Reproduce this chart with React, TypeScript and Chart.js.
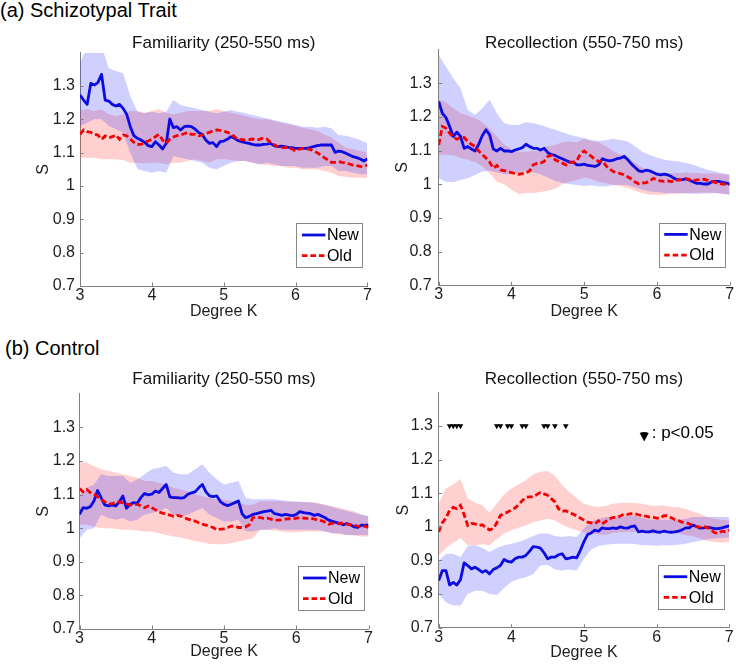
import React, { useEffect, useRef } from 'react';
import { Chart, registerables } from 'chart.js';

Chart.register(...registerables);

const FONT = "'Liberation Sans', Arial, Helvetica, sans-serif";
Chart.defaults.font.family = FONT;

// ---------- categories / ticks ----------
const K_LINE = [
  3, 3.05, 3.1, 3.15, 3.2, 3.25, 3.3, 3.35, 3.4, 3.45,
  3.5, 3.55, 3.6, 3.65, 3.7, 3.75, 3.8, 3.85, 3.9, 3.95,
  4, 4.05, 4.1, 4.15, 4.2, 4.25, 4.3, 4.35, 4.4, 4.45,
  4.5, 4.55, 4.6, 4.65, 4.7, 4.75, 4.8, 4.85, 4.9, 4.95,
  5, 5.05, 5.1, 5.15, 5.2, 5.25, 5.3, 5.35, 5.4, 5.45,
  5.5, 5.55, 5.6, 5.65, 5.7, 5.75, 5.8, 5.85, 5.9, 5.95,
  6, 6.05, 6.1, 6.15, 6.2, 6.25, 6.3, 6.35, 6.4, 6.45,
  6.5, 6.55, 6.6, 6.65, 6.7, 6.75, 6.8, 6.85, 6.9, 6.95,
  7,
];
const K_BAND = [
  3, 3.1, 3.2, 3.3, 3.4, 3.5, 3.6, 3.7, 3.8, 3.9,
  4, 4.1, 4.2, 4.3, 4.4, 4.5, 4.6, 4.7, 4.8, 4.9,
  5, 5.1, 5.2, 5.3, 5.4, 5.5, 5.6, 5.7, 5.8, 5.9,
  6, 6.1, 6.2, 6.3, 6.4, 6.5, 6.6, 6.7, 6.8, 6.9,
  7,
];
const X_TICKS = [3, 4, 5, 6, 7];
const Y_TICKS = [0.7, 0.8, 0.9, 1, 1.1, 1.2, 1.3];
const Y_MIN = 0.7;
const Y_MAX = 1.4;
const SERIES_NAMES = ['New', 'Old'];
const GROUP_LABELS = ['(a) Schizotypal Trait', '(b) Control'];
const PANEL_TITLES = ['Familiarity (250-550 ms)', 'Recollection (550-750 ms)'];
const X_LABEL = 'Degree K';
const Y_LABEL = 'S';
const SIG_LABEL = ': p<0.05';
const SIG_LEVEL = 1.3;
const CTRL_REC_SIG_K = [3.15, 3.2, 3.25, 3.3, 3.8, 3.85, 3.95, 4, 4.15, 4.2, 4.45, 4.5, 4.6, 4.75];

// ---------- (a) Schizotypal, Familiarity ----------
const SCHIZO_FAM_NEW = [
  1.273, 1.258, 1.245, 1.308, 1.303, 1.311, 1.335, 1.258, 1.255, 1.245, 1.24,
  1.245, 1.233, 1.215, 1.178, 1.151, 1.143, 1.138, 1.131, 1.121, 1.118,
  1.133, 1.123, 1.111, 1.128, 1.201, 1.175, 1.178, 1.168, 1.178, 1.18,
  1.178, 1.171, 1.161, 1.155, 1.138, 1.128, 1.13, 1.118, 1.133, 1.135,
  1.14, 1.148, 1.143, 1.136, 1.133, 1.13, 1.128, 1.125, 1.123, 1.123,
  1.125, 1.126, 1.128, 1.121, 1.118, 1.12, 1.118, 1.116, 1.115, 1.113,
  1.113, 1.113, 1.113, 1.115, 1.118, 1.121, 1.123, 1.123, 1.123, 1.123,
  1.101, 1.105, 1.103, 1.098, 1.093, 1.088, 1.085, 1.081, 1.075, 1.081,
];
const SCHIZO_FAM_OLD = [
  1.155, 1.168, 1.163, 1.161, 1.155, 1.153, 1.14, 1.15, 1.145, 1.148, 1.153,
  1.14, 1.153, 1.151, 1.141, 1.131, 1.125, 1.125, 1.131, 1.135, 1.14,
  1.148, 1.155, 1.138, 1.128, 1.141, 1.147, 1.151, 1.153, 1.157, 1.161,
  1.155, 1.155, 1.151, 1.153, 1.158, 1.161, 1.165, 1.168, 1.167, 1.165,
  1.161, 1.157, 1.148, 1.139, 1.14, 1.138, 1.139, 1.141, 1.139, 1.14,
  1.144, 1.141, 1.131, 1.125, 1.118, 1.115, 1.115, 1.117, 1.111, 1.105,
  1.111, 1.112, 1.112, 1.11, 1.105, 1.1, 1.093, 1.085, 1.078, 1.071,
  1.071, 1.073, 1.071, 1.069, 1.066, 1.063, 1.061, 1.059, 1.058, 1.063,
];
const SCHIZO_FAM_NEW_HI = [
  1.368, 1.42, 1.43, 1.42, 1.353, 1.345, 1.338, 1.27, 1.223, 1.218,
  1.223, 1.218, 1.223, 1.258, 1.243, 1.238, 1.233, 1.228, 1.223, 1.218,
  1.223, 1.228, 1.223, 1.218, 1.213, 1.208, 1.203, 1.198, 1.193, 1.188,
  1.183, 1.178, 1.178, 1.175, 1.178, 1.173, 1.153, 1.151, 1.145, 1.138,
  1.128,
];
const SCHIZO_FAM_NEW_LO = [
  1.18, 1.19, 1.2, 1.2, 1.18, 1.17, 1.16, 1.1, 1.05, 1.045,
  1.04, 1.045, 1.04, 1.09, 1.085, 1.08, 1.075, 1.07, 1.055, 1.05,
  1.06, 1.07, 1.075, 1.075, 1.07, 1.065, 1.07, 1.065, 1.06, 1.06,
  1.06, 1.055, 1.055, 1.055, 1.06, 1.06, 1.045, 1.045, 1.04, 1.035,
  1.035,
];
const SCHIZO_FAM_OLD_HI = [
  1.228, 1.23, 1.225, 1.23, 1.215, 1.21, 1.215, 1.225, 1.225, 1.22,
  1.225, 1.23, 1.22, 1.215, 1.22, 1.225, 1.225, 1.225, 1.225, 1.23,
  1.225, 1.22, 1.215, 1.21, 1.205, 1.2, 1.2, 1.195, 1.19, 1.185,
  1.18, 1.175, 1.17, 1.165, 1.155, 1.145, 1.13, 1.115, 1.11, 1.105,
  1.1,
];
const SCHIZO_FAM_OLD_LO = [
  1.085, 1.085, 1.085, 1.08, 1.08, 1.08, 1.078, 1.07, 1.07, 1.068,
  1.07, 1.07, 1.065, 1.07, 1.07, 1.075, 1.08, 1.075, 1.07, 1.08,
  1.08, 1.078, 1.075, 1.075, 1.07, 1.065, 1.063, 1.06, 1.06, 1.055,
  1.055, 1.05, 1.05, 1.05, 1.045, 1.04, 1.03, 1.028, 1.025, 1.025,
  1.025,
];

// ---------- (a) Schizotypal, Recollection ----------
const SCHIZO_REC_NEW = [
  1.246, 1.211, 1.198, 1.172, 1.142, 1.155, 1.142, 1.107, 1.112, 1.105, 1.099,
  1.119, 1.145, 1.162, 1.147, 1.105, 1.099, 1.107, 1.099, 1.099, 1.097,
  1.102, 1.105, 1.109, 1.119, 1.112, 1.107, 1.107, 1.102, 1.107, 1.094,
  1.088, 1.086, 1.08, 1.076, 1.071, 1.066, 1.066, 1.058, 1.058, 1.06,
  1.056, 1.055, 1.053, 1.058, 1.076, 1.072, 1.07, 1.072, 1.076, 1.078,
  1.083, 1.073, 1.06, 1.05, 1.04, 1.038, 1.042, 1.04, 1.035, 1.03,
  1.028, 1.03, 1.028, 1.023, 1.016, 1.013, 1.014, 1.016, 1.012, 1.007,
  1.003, 1.003, 1.001, 1.001, 1.007, 1.009, 1.009, 1.006, 1.004, 1.001,
];
const SCHIZO_REC_OLD = [
  1.117, 1.172, 1.167, 1.152, 1.14, 1.134, 1.139, 1.139, 1.127, 1.119, 1.112,
  1.099, 1.088, 1.078, 1.066, 1.048, 1.056, 1.043, 1.041, 1.038, 1.035,
  1.032, 1.03, 1.032, 1.034, 1.04, 1.058, 1.062, 1.063, 1.068, 1.083,
  1.086, 1.073, 1.068, 1.063, 1.058, 1.066, 1.065, 1.07, 1.092, 1.099,
  1.09, 1.083, 1.073, 1.068, 1.07, 1.055, 1.045, 1.038, 1.034, 1.032,
  1.028, 1.022, 1.016, 1.007, 1.002, 1.004, 1.005, 1.009, 1.018, 1.013,
  1.01, 1.009, 1.01, 1.008, 1.011, 1.013, 1.013, 1.017, 1.014, 1.011,
  1.013, 1.013, 1.015, 1.012, 1.009, 1.006, 1.003, 1.001, 1.001, 0.999,
];
const SCHIZO_REC_NEW_HI = [
  1.384, 1.349, 1.315, 1.285, 1.221, 1.206, 1.226, 1.251, 1.211, 1.181,
  1.176, 1.176, 1.184, 1.181, 1.176, 1.169, 1.162, 1.155, 1.147, 1.142,
  1.137, 1.132, 1.129, 1.132, 1.135, 1.132, 1.127, 1.112, 1.097, 1.087,
  1.08, 1.073, 1.07, 1.068, 1.063, 1.058, 1.05, 1.043, 1.038, 1.033,
  1.03,
];
const SCHIZO_REC_NEW_LO = [
  1.018, 1.008, 1.006, 1.013, 1.018, 1.028, 1.038, 1.04, 1.035, 1.03,
  1.03, 1.035, 1.04, 1.035, 1.03, 1.02, 1.01, 1.005, 1.0, 0.998,
  0.995, 0.997, 0.994, 0.994, 0.997, 0.999, 0.997, 0.991, 0.984, 0.979,
  0.977, 0.974, 0.974, 0.974, 0.973, 0.972, 0.972, 0.973, 0.974, 0.972,
  0.969,
];
const SCHIZO_REC_OLD_HI = [
  1.251, 1.244, 1.226, 1.211, 1.204, 1.196, 1.184, 1.165, 1.142, 1.119,
  1.105, 1.097, 1.097, 1.099, 1.101, 1.112, 1.117, 1.125, 1.127, 1.124,
  1.135, 1.129, 1.125, 1.112, 1.099, 1.088, 1.076, 1.063, 1.05, 1.04,
  1.036, 1.034, 1.033, 1.033, 1.035, 1.034, 1.033, 1.032, 1.032, 1.03,
  1.028,
];
const SCHIZO_REC_OLD_LO = [
  1.088, 1.088, 1.086, 1.078, 1.073, 1.066, 1.053, 1.033, 1.008, 1.0,
  0.984, 0.971, 0.974, 0.974, 0.977, 0.981, 0.987, 1.0, 1.008, 1.013,
  1.02, 1.016, 1.008, 1.004, 0.999, 0.994, 0.989, 0.981, 0.974, 0.969,
  0.969, 0.969, 0.971, 0.972, 0.974, 0.974, 0.976, 0.976, 0.974, 0.972,
  0.969,
];

// ---------- (b) Control, Familiarity ----------
const CTRL_FAM_NEW = [
  1.041, 1.061, 1.059, 1.064, 1.081, 1.112, 1.09, 1.069, 1.066, 1.069, 1.066,
  1.078, 1.096, 1.059, 1.071, 1.076, 1.074, 1.091, 1.103, 1.099, 1.101,
  1.11, 1.106, 1.118, 1.13, 1.093, 1.091, 1.091, 1.089, 1.091, 1.101,
  1.105, 1.108, 1.12, 1.13, 1.108, 1.096, 1.094, 1.096, 1.079, 1.071,
  1.067, 1.071, 1.076, 1.081, 1.043, 1.031, 1.035, 1.041, 1.043, 1.046,
  1.049, 1.051, 1.053, 1.043, 1.041, 1.038, 1.041, 1.039, 1.037, 1.041,
  1.049, 1.046, 1.045, 1.043, 1.038, 1.041, 1.036, 1.031, 1.024, 1.02,
  1.017, 1.014, 1.01, 1.014, 1.01, 1.004, 1.002, 1.009, 1.008, 1.01,
];
const CTRL_FAM_OLD = [
  1.118, 1.108, 1.115, 1.106, 1.101, 1.093, 1.086, 1.078, 1.071, 1.073, 1.076,
  1.078, 1.075, 1.072, 1.069, 1.071, 1.071, 1.066, 1.061, 1.066, 1.061,
  1.055, 1.048, 1.045, 1.042, 1.039, 1.035, 1.038, 1.036, 1.031, 1.027,
  1.024, 1.021, 1.016, 1.012, 1.009, 1.005, 1.002, 0.995, 0.997, 0.998,
  1.002, 1.006, 1.006, 1.002, 1.002, 1.004, 1.01, 1.031, 1.033, 1.031,
  1.029, 1.03, 1.027, 1.024, 1.024, 1.025, 1.027, 1.028, 1.027, 1.03,
  1.031, 1.03, 1.029, 1.03, 1.027, 1.025, 1.022, 1.018, 1.012, 1.015,
  1.012, 1.014, 1.016, 1.012, 1.01, 1.009, 1.006, 1.005, 1.006, 1.002,
];
const CTRL_FAM_NEW_HI = [
  1.1, 1.12, 1.13, 1.16, 1.155, 1.155, 1.155, 1.135, 1.145, 1.16,
  1.175, 1.18, 1.185, 1.165, 1.16, 1.16, 1.175, 1.19, 1.165, 1.145,
  1.13, 1.135, 1.14, 1.09, 1.086, 1.086, 1.086, 1.086, 1.083, 1.081,
  1.079, 1.078, 1.076, 1.073, 1.069, 1.063, 1.056, 1.051, 1.046, 1.041,
  1.036,
];
const CTRL_FAM_NEW_LO = [
  0.97, 0.995, 1.0, 1.04, 1.03, 1.025, 1.03, 1.02, 1.025, 1.04,
  1.045, 1.05, 1.06, 1.04, 1.035, 1.04, 1.05, 1.06, 1.04, 1.03,
  1.02, 1.02, 1.025, 0.99, 0.99, 0.995, 0.995, 1.0, 0.995, 0.995,
  0.995, 0.995, 0.995, 0.995, 0.99, 0.985, 0.985, 0.98, 0.98, 0.98,
  0.98,
];
const CTRL_FAM_OLD_HI = [
  1.195, 1.195, 1.185, 1.175, 1.17, 1.165, 1.16, 1.155, 1.15, 1.14,
  1.14, 1.135, 1.13, 1.12, 1.115, 1.11, 1.1, 1.095, 1.09, 1.085,
  1.085, 1.08, 1.075, 1.07, 1.07, 1.08, 1.08, 1.08, 1.08, 1.078,
  1.078, 1.078, 1.078, 1.075, 1.07, 1.065, 1.06, 1.055, 1.05, 1.04,
  1.035,
];
const CTRL_FAM_OLD_LO = [
  1.01, 1.01, 1.005, 1.0, 1.0, 0.998, 0.995, 0.995, 0.993, 0.99,
  0.99, 0.985, 0.98, 0.975, 0.972, 0.967, 0.962, 0.958, 0.953, 0.952,
  0.952, 0.955, 0.96, 0.965, 0.97, 0.995, 0.995, 0.993, 0.99, 0.988,
  0.988, 0.99, 0.99, 0.99, 0.99, 0.985, 0.982, 0.98, 0.978, 0.975,
  0.975,
];

// ---------- (b) Control, Recollection ----------
const CTRL_REC_NEW = [
  0.84, 0.87, 0.87, 0.827, 0.835, 0.827, 0.843, 0.893, 0.885, 0.875, 0.88,
  0.873, 0.865, 0.87, 0.86, 0.873, 0.878, 0.885, 0.903, 0.897, 0.895,
  0.905, 0.91, 0.91, 0.915, 0.927, 0.941, 0.94, 0.937, 0.923, 0.905,
  0.91, 0.91, 0.917, 0.92, 0.905, 0.907, 0.91, 0.908, 0.93, 0.956,
  0.977, 0.982, 0.99, 0.987, 0.997, 0.995, 0.995, 0.997, 0.995, 1.0,
  0.997, 0.996, 1.001, 1.003, 0.985, 0.987, 0.985, 0.985, 0.988, 0.985,
  0.984, 0.987, 0.985, 0.984, 0.985, 0.987, 0.991, 0.997, 0.997, 1.005,
  1.001, 0.996, 0.997, 0.999, 0.997, 0.995, 0.995, 0.997, 1.0, 1.003,
];
const CTRL_REC_OLD = [
  0.985, 1.012, 1.026, 1.049, 1.058, 1.054, 1.064, 1.036, 1.004, 1.01, 1.009,
  1.004, 1.006, 0.998, 0.991, 0.995, 1.012, 1.034, 1.039, 1.044, 1.05,
  1.056, 1.066, 1.078, 1.088, 1.089, 1.089, 1.096, 1.102, 1.098, 1.094,
  1.084, 1.074, 1.054, 1.046, 1.048, 1.042, 1.038, 1.032, 1.026, 1.02,
  1.014, 1.012, 1.009, 1.018, 1.009, 1.016, 1.024, 1.028, 1.027, 1.032,
  1.038, 1.037, 1.039, 1.039, 1.036, 1.034, 1.032, 1.029, 1.029, 1.026,
  1.026, 1.033, 1.033, 1.027, 1.022, 1.019, 1.014, 1.013, 1.009, 1.005,
  1.001, 0.999, 1.001, 0.998, 0.99, 0.983, 0.981, 0.987, 0.985, 0.99,
];
const CTRL_REC_NEW_HI = [
  0.9, 0.92, 0.92, 0.91, 0.943, 0.945, 0.937, 0.925, 0.937, 0.945,
  0.95, 0.955, 0.963, 0.973, 0.98, 0.98, 0.973, 0.97, 0.973, 0.97,
  0.995, 1.016, 1.024, 1.029, 1.029, 1.031, 1.032, 1.034, 1.026, 1.022,
  1.021, 1.021, 1.021, 1.022, 1.024, 1.029, 1.029, 1.029, 1.029, 1.029,
  1.029,
];
const CTRL_REC_NEW_LO = [
  0.8, 0.776, 0.766, 0.766, 0.8, 0.81, 0.81, 0.8, 0.797, 0.817,
  0.837, 0.845, 0.85, 0.86, 0.885, 0.887, 0.873, 0.87, 0.873, 0.87,
  0.905, 0.933, 0.943, 0.947, 0.949, 0.95, 0.95, 0.949, 0.945, 0.945,
  0.944, 0.945, 0.945, 0.947, 0.95, 0.955, 0.959, 0.963, 0.965, 0.967,
  0.968,
];
const CTRL_REC_OLD_HI = [
  1.07, 1.114, 1.126, 1.142, 1.084, 1.072, 1.064, 1.042, 1.069, 1.096,
  1.114, 1.126, 1.139, 1.156, 1.164, 1.166, 1.152, 1.124, 1.104, 1.086,
  1.069, 1.062, 1.059, 1.062, 1.069, 1.071, 1.072, 1.071, 1.069, 1.064,
  1.062, 1.064, 1.059, 1.058, 1.054, 1.046, 1.039, 1.029, 1.024, 1.021,
  1.019,
];
const CTRL_REC_OLD_LO = [
  0.915, 0.937, 0.953, 0.967, 0.945, 0.945, 0.948, 0.945, 0.963, 0.98,
  0.99, 0.997, 1.004, 1.014, 1.019, 1.024, 1.019, 1.006, 0.997, 0.99,
  0.983, 0.98, 0.978, 0.976, 0.982, 0.985, 0.985, 0.985, 0.983, 0.98,
  0.98, 0.983, 0.982, 0.98, 0.975, 0.972, 0.965, 0.958, 0.955, 0.953,
  0.955,
];

// ---------- styles ----------
const BLUE = 'rgb(12,12,225)';
const RED = 'rgb(245,0,0)';
const BLUE_FILL = 'rgba(40,40,255,0.22)';
const RED_FILL = 'rgba(255,40,40,0.22)';
const AXIS_COLOR = '#808080';
const TEXT_COLOR = '#1e1e1e';

interface Box { left: number; top: number; width: number; height: number }
interface Area { l: number; t: number; r: number; b: number }
interface Panel {
  title: string;
  newMean: number[]; oldMean: number[];
  newHi: number[]; newLo: number[]; oldHi: number[]; oldLo: number[];
  sig?: number[];
  box: Box; area: Area;
  tickPad: number; titleY: number; xTitleY: number; yTitleX: number;
}

const PANELS: Panel[] = [
  {
    title: PANEL_TITLES[0],
    newMean: SCHIZO_FAM_NEW, oldMean: SCHIZO_FAM_OLD,
    newHi: SCHIZO_FAM_NEW_HI, newLo: SCHIZO_FAM_NEW_LO, oldHi: SCHIZO_FAM_OLD_HI, oldLo: SCHIZO_FAM_OLD_LO,
    box: { left: 0, top: 25, width: 376, height: 302 },
    area: { l: 80, t: 52.7, r: 367.4, b: 286 },
    tickPad: 5, titleY: 43.5, xTitleY: 312, yTitleX: 44,
  },
  {
    title: PANEL_TITLES[1],
    newMean: SCHIZO_REC_NEW, oldMean: SCHIZO_REC_OLD,
    newHi: SCHIZO_REC_NEW_HI, newLo: SCHIZO_REC_NEW_LO, oldHi: SCHIZO_REC_OLD_HI, oldLo: SCHIZO_REC_OLD_LO,
    box: { left: 378, top: 25, width: 358, height: 302 },
    area: { l: 438.7, t: 49.6, r: 729.7, b: 285.4 },
    tickPad: 7, titleY: 43, xTitleY: 312, yTitleX: 402.7,
  },
  {
    title: PANEL_TITLES[0],
    newMean: CTRL_FAM_NEW, oldMean: CTRL_FAM_OLD,
    newHi: CTRL_FAM_NEW_HI, newLo: CTRL_FAM_NEW_LO, oldHi: CTRL_FAM_OLD_HI, oldLo: CTRL_FAM_OLD_LO,
    box: { left: 0, top: 362, width: 376, height: 306 },
    area: { l: 79.5, t: 393.7, r: 368.5, b: 629 },
    tickPad: 4.5, titleY: 379.5, xTitleY: 652, yTitleX: 44,
  },
  {
    title: PANEL_TITLES[1],
    newMean: CTRL_REC_NEW, oldMean: CTRL_REC_OLD,
    newHi: CTRL_REC_NEW_HI, newLo: CTRL_REC_NEW_LO, oldHi: CTRL_REC_OLD_HI, oldLo: CTRL_REC_OLD_LO,
    sig: CTRL_REC_SIG_K,
    box: { left: 378, top: 362, width: 358, height: 306 },
    area: { l: 438.7, t: 392.4, r: 729.2, b: 627.7 },
    tickPad: 5.7, titleY: 379.5, xTitleY: 652.5, yTitleX: 403.5,
  },
];

const fmt = (v: any) => String(Math.round(Number(v) * 100) / 100);

const decorPlugin = {
  id: 'decor',
  afterDraw(chart: any, _args: any, o: any) {
    const { ctx, chartArea } = chart;
    const { left, right, top, bottom } = chartArea;
    const xs = chart.scales.x;
    const ys = chart.scales.y;
    ctx.save();
    ctx.setLineDash([]);
    // inward tick marks
    ctx.strokeStyle = AXIS_COLOR;
    ctx.lineWidth = 1;
    ctx.beginPath();
    for (const v of Y_TICKS) {
      const py = Math.round(ys.getPixelForValue(v)) + 0.5;
      ctx.moveTo(left, py);
      ctx.lineTo(left + 3.5, py);
    }
    for (const v of X_TICKS) {
      const px = Math.round(xs.getPixelForValue(v)) + 0.5;
      ctx.moveTo(px, bottom);
      ctx.lineTo(px, bottom - 3.5);
    }
    ctx.stroke();

    // subplot title
    ctx.fillStyle = '#111';
    ctx.font = `17px ${FONT}`;
    ctx.textAlign = 'center';
    ctx.textBaseline = 'middle';
    ctx.fillText(o.title, (left + right) / 2, o.titleY);

    // legend box
    const lw = 66;
    const lh = 44.4;
    const lx = right - 5 - lw;
    const ly = bottom - 18.3 - lh;
    ctx.fillStyle = '#fff';
    ctx.fillRect(lx, ly, lw, lh);
    ctx.strokeStyle = '#888';
    ctx.lineWidth = 1;
    ctx.strokeRect(Math.round(lx) + 0.5, Math.round(ly) + 0.5, Math.round(lw), Math.round(lh));
    ctx.font = `16px ${FONT}`;
    ctx.textAlign = 'left';
    const rows = [
      { y: ly + 11.7, color: BLUE, dash: [] as number[] },
      { y: ly + 32.4, color: RED, dash: [5.5, 3] },
    ];
    rows.forEach((r, i) => {
      ctx.strokeStyle = r.color;
      ctx.lineWidth = 2.8;
      ctx.setLineDash(r.dash);
      ctx.beginPath();
      ctx.moveTo(lx + 5.5, r.y);
      ctx.lineTo(lx + 29, r.y);
      ctx.stroke();
      ctx.setLineDash([]);
      ctx.fillStyle = '#000';
      ctx.fillText(SERIES_NAMES[i], lx + 30.5, r.y + 0.8);
    });

    // significance key
    if (o.sigKey) {
      const tx = right - 85;
      const ty = top + 44.5;
      ctx.fillStyle = '#000';
      ctx.beginPath();
      ctx.moveTo(tx - 4.5, ty - 4);
      ctx.quadraticCurveTo(tx, ty - 6, tx + 4.5, ty - 4);
      ctx.lineTo(tx, ty + 4.5);
      ctx.closePath();
      ctx.fill();
      ctx.font = `17px ${FONT}`;
      ctx.textBaseline = 'middle';
      ctx.fillText(SIG_LABEL, right - 77.5, top + 41);
    }
    ctx.restore();
  },
};

function PanelChart({ p }: { p: Panel }) {
  const ref = useRef<HTMLCanvasElement | null>(null);
  useEffect(() => {
    const canvas = ref.current;
    if (!canvas) return;
    const { box, area } = p;
    const pts = (xs: number[], ys: number[]) => xs.map((x, i) => ({ x, y: ys[i] }));
    const bandBase = { pointRadius: 0, borderWidth: 0, tension: 0, order: 3 };
    const datasets: any[] = [
      { ...bandBase, data: pts(K_BAND, p.newHi), fill: '+1', backgroundColor: BLUE_FILL, borderColor: 'transparent' },
      { ...bandBase, data: pts(K_BAND, p.newLo), fill: false, borderColor: 'transparent' },
      { ...bandBase, data: pts(K_BAND, p.oldHi), fill: '+1', backgroundColor: RED_FILL, borderColor: 'transparent' },
      { ...bandBase, data: pts(K_BAND, p.oldLo), fill: false, borderColor: 'transparent' },
      {
        label: SERIES_NAMES[0], data: pts(K_LINE, p.newMean), borderColor: BLUE, borderWidth: 2.8,
        pointRadius: 0, fill: false, tension: 0, order: 2, borderJoinStyle: 'round',
      },
      {
        label: SERIES_NAMES[1], data: pts(K_LINE, p.oldMean), borderColor: RED, borderWidth: 2.8,
        borderDash: [6, 3], pointRadius: 0, fill: false, tension: 0, order: 1,
      },
    ];
    if (p.sig) {
      datasets.push({
        type: 'scatter', data: p.sig.map((k) => ({ x: k, y: SIG_LEVEL })), pointStyle: 'triangle',
        rotation: 180, pointRadius: 3.3, backgroundColor: '#000', borderColor: '#000', borderWidth: 0,
        showLine: false, order: 0,
      });
    }
    const yAxisW = area.l - box.left;
    const xAxisH = box.top + box.height - area.b;
    const chart = new Chart(canvas, {
      type: 'line',
      data: { datasets },
      options: {
        animation: false,
        responsive: false,
        devicePixelRatio: 1,
        events: [],
        layout: { padding: { left: 0, top: area.t - box.top, right: box.left + box.width - area.r, bottom: 0 } },
        plugins: {
          legend: { display: false },
          title: { display: false },
          tooltip: { enabled: false },
          decor: { title: p.title, titleY: p.titleY - box.top, sigKey: !!p.sig },
        } as any,
        scales: {
          x: {
            type: 'linear', min: 3, max: 7, position: 'bottom', z: 1,
            afterBuildTicks: (s: any) => { s.ticks = X_TICKS.map((v) => ({ value: v })); },
            afterFit: (s: any) => { s.height = xAxisH; },
            grid: { display: false, drawTicks: false },
            border: { display: true, color: AXIS_COLOR, width: 1 },
            ticks: { padding: 0, autoSkip: false, maxRotation: 0, color: TEXT_COLOR, font: { family: FONT, size: 16 }, callback: fmt },
            title: {
              display: true, text: X_LABEL, color: TEXT_COLOR, font: { family: FONT, size: 16 },
              padding: { top: 0, bottom: box.top + box.height - p.xTitleY - 9.6 },
            },
          },
          y: {
            type: 'linear', min: Y_MIN, max: Y_MAX, position: 'left', z: 1,
            afterBuildTicks: (s: any) => { s.ticks = Y_TICKS.map((v) => ({ value: v })); },
            afterFit: (s: any) => { s.width = yAxisW; },
            grid: { display: false, drawTicks: false },
            border: { display: true, color: AXIS_COLOR, width: 1 },
            ticks: { padding: p.tickPad, autoSkip: false, color: TEXT_COLOR, font: { family: FONT, size: 16 }, callback: fmt },
            title: {
              display: true, text: Y_LABEL, color: TEXT_COLOR, font: { family: FONT, size: 16 },
              padding: { top: p.yTitleX - box.left - 9.6, bottom: 0 },
            },
          },
        },
      } as any,
      plugins: [decorPlugin],
    });
    return () => chart.destroy();
  }, [p]);
  return (
    <canvas
      ref={ref}
      width={p.box.width}
      height={p.box.height}
      style={{ position: 'absolute', left: p.box.left, top: p.box.top, width: p.box.width, height: p.box.height }}
    />
  );
}

export default function App() {
  const heading: React.CSSProperties = {
    position: 'absolute', font: `20px ${FONT}`, lineHeight: '20px', color: '#000', whiteSpace: 'nowrap',
  };
  return (
    <div style={{ position: 'absolute', left: 0, top: 0, width: 736, height: 668, overflow: 'hidden', background: '#fff' }}>
      <div style={{ ...heading, left: 0, top: 0 }}>{GROUP_LABELS[0]}</div>
      <div style={{ ...heading, left: 5, top: 338 }}>{GROUP_LABELS[1]}</div>
      {PANELS.map((p, i) => <PanelChart key={i} p={p} />)}
    </div>
  );
}
